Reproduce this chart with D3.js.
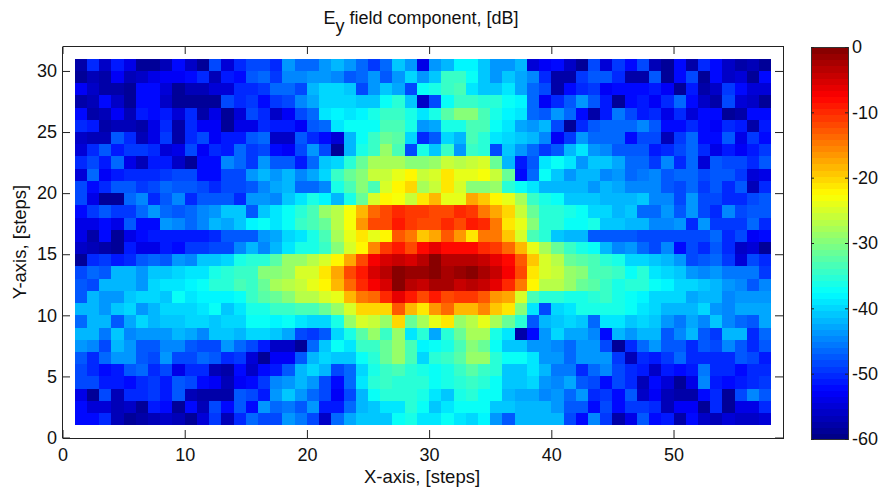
<!DOCTYPE html>
<html lang="en">
<head>
<meta charset="UTF-8">
<title>Ey field component</title>
<script src="https://cdn.jsdelivr.net/npm/d3@7"></script>
<style>
    body { margin: 0; background: #fff; }
    text { font-family: "Liberation Sans", Arial, sans-serif; fill: #111; }
    .frame path, .frame line { stroke: #222; }
</style>
</head>
<body>
<div id="chart"></div>
<script>
// measured field in dB, one array per row, top row of the picture first
var row30 = [-58,-50,-56,-51,-54,-59,-59,-57,-52,-56,-59,-48,-55,-50,-48,-48,-50,-44,-46,-46,-44,-42,-44,-46,-49,-46,-41,-44,-54,-44,-41.5,-38,-38,-41,-44,-44,-42,-55,-53,-52,-56,-59,-48,-55,-49,-52,-48,-57,-59,-52,-58,-50,-52,-56,-58,-57,-59];
var row29 = [-59,-57,-58,-53,-57,-56,-54,-53,-53,-52,-50,-57,-51,-52,-47,-46,-49,-45,-45,-44,-44,-45,-47,-46,-44,-47,-44,-40,-44,-41,-34.5,-34.5,-37,-41,-43.5,-41,-43,-45,-50,-58,-58,-49,-47,-47,-50,-58,-58,-47,-59,-52,-48,-59,-52,-56,-55,-59,-52];
var row28 = [-53,-56,-58,-58,-59,-52,-52,-55,-59,-57,-57,-55,-55,-50,-50,-49,-46,-46,-48,-42,-40,-40,-41,-48,-44,-41,-43,-48,-37,-36,-34,-33,-39,-40.5,-40.5,-39,-43,-46,-48.5,-58,-52,-50,-49,-53,-52,-52,-52,-51,-53,-59,-51,-58,-56,-49,-52,-55,-55];
var row27 = [-58,-57,-52,-56,-59,-52,-52,-56,-59,-59,-59,-59,-48.5,-50,-49,-52,-49,-48,-45,-43,-40,-40,-40,-40.5,-40.5,-37.5,-35.5,-40.5,-56,-48.5,-37.5,-34,-34,-35.5,-35.5,-37.5,-38,-46,-53,-50,-47,-44,-47.5,-51,-59,-52,-51,-53,-50,-46,-52,-56,-58,-48.5,-55,-56,-59];
var row26 = [-52,-58,-57,-53,-57,-51,-52,-51,-55,-50,-58,-54,-59,-55,-48.5,-50,-56,-53,-48,-46,-39,-38,-39,-38,-36,-34.5,-34,-36,-39,-36,-32,-29.5,-29.5,-33,-36,-38,-39,-46,-47.5,-44,-46,-52,-58,-51,-45.5,-48.5,-51,-50,-54,-50,-55,-52,-52,-59,-58,-52,-52];
var row25 = [-50,-51,-58,-57,-57,-58,-54,-50,-58,-50,-53,-53,-59,-54,-54,-50,-51,-51,-53,-47,-46,-39,-37,-37,-37,-33,-33,-36.5,-44,-43,-36,-36,-33,-33,-37.5,-38.5,-43,-44,-42,-48,-59,-50,-47,-46,-46,-46,-45,-47.5,-52,-52,-50,-52,-53,-50,-51,-58,-51];
var row24 = [-56,-57,-57,-47,-50,-57,-54,-49,-58,-50,-48,-53,-51,-51,-47,-46,-56,-56,-47,-50,-52,-55,-41.5,-37.5,-34.5,-31.5,-32,-40,-50,-47,-40,-41.5,-33,-35.5,-39,-40,-41,-41.5,-45,-53,-49,-44,-46,-46,-46,-52,-48,-48,-57,-49,-46,-52,-52,-47,-54,-49,-52];
var row23 = [-55,-50,-47,-51,-49,-49,-50,-55,-54,-48,-53,-50,-51,-46,-49,-48.5,-52,-53,-48,-44,-48,-59,-42,-36,-34,-29,-33,-48,-36.5,-41,-34.5,-44,-34,-35.5,-48,-40.5,-44,-46,-49,-47,-42,-39,-44,-45,-47,-47.5,-47.5,-51,-50,-48.5,-46,-50,-54,-51,-53,-51,-49];
var row22 = [-50,-48.5,-51,-46,-54,-57,-51,-51,-56,-59,-52,-52,-45,-46,-49,-44,-47,-47.5,-51,-46,-40.5,-40,-35,-31,-27.5,-27.5,-28,-29.5,-29.5,-29,-25.5,-26.5,-25.5,-25,-31.5,-42,-51,-47,-39,-37.5,-38.5,-44,-41,-41,-43,-46,-46,-49,-45,-50,-46,-55,-47,-48,-48,-50,-47];
var row21 = [-55,-46,-53,-51,-50,-50,-50,-49,-48,-48,-52,-52,-48,-48,-44,-42,-43.5,-42,-45,-43,-40,-34,-31.5,-29.5,-26,-26,-24,-22,-26,-24.5,-21,-24,-24,-23,-26,-31.5,-52,-46,-37.5,-40.5,-44,-42,-42,-45,-43.5,-46,-45.5,-45,-47.5,-46,-46,-48,-47,-47,-49,-55,-54];
var row20 = [-48,-52,-50,-47,-47,-49,-48,-46,-47,-47,-48.5,-50,-48.5,-48,-47,-45,-43,-41.5,-46,-46,-45,-36.5,-33,-30,-33,-25,-22,-20.5,-27.5,-26,-21,-24.5,-30,-29.5,-29,-35.5,-37.5,-39,-41.5,-41.5,-41.5,-41.5,-44,-41.5,-43,-45,-45,-45,-47.5,-48.5,-46,-49,-47,-50,-47,-57,-50];
var row19 = [-48.5,-54,-59,-59,-46,-45,-50,-47,-45,-50,-47,-47,-47.5,-50,-44,-44,-45,-41,-38.5,-36,-38,-42,-36.5,-31,-25,-22,-23,-26,-21,-18,-24,-24,-17.5,-19.5,-22,-24,-27.5,-34,-36,-37.5,-41,-41,-41,-42,-42,-42,-41,-45,-45,-48,-44,-48,-48,-50,-50,-48.5,-47];
var row18 = [-52,-49,-47.5,-49,-49,-46,-44,-46,-47.5,-46,-45,-43.5,-41,-41,-47,-40.5,-39,-37.5,-35,-33,-29,-26.5,-23,-18,-14,-12,-9.5,-11,-11,-12,-12,-9.5,-10.5,-15,-17,-20.5,-26,-31,-35,-35.5,-36,-37,-40,-39.5,-42,-41,-46,-46,-44,-47,-44,-48,-50,-45,-48,-47,-47];
var row17 = [-54,-54,-52,-54,-47,-52,-52,-44,-45,-46,-45,-42,-43,-41,-38,-37.5,-39,-37.5,-34.5,-33.5,-31,-27,-23,-16,-12,-12,-9,-10.5,-11.5,-12,-10,-12,-9,-9.5,-15,-21,-24,-30,-35,-35,-37.5,-37.5,-36.5,-41,-41,-42,-42,-45,-45,-44,-50,-44,-49,-49,-49,-46,-50];
var row16 = [-54,-58,-52,-59,-54,-52,-51,-51,-51,-51,-51,-50,-47.5,-47.5,-47,-44,-43,-39.5,-39,-36,-33,-28,-24,-21,-24,-22,-12.5,-15,-19,-17,-13,-16,-21,-15,-15,-19,-24.5,-33,-35.5,-41,-42,-42,-47,-47.5,-47.5,-47.5,-48,-48,-48.5,-48.5,-48.5,-48.5,-46,-50,-48,-53,-52];
var row15 = [-56,-57,-58,-59,-51,-54,-54,-51,-52,-49,-49,-48,-48,-45,-42,-44.5,-41.5,-38.5,-36,-36,-34,-30,-25,-22,-15.5,-10.5,-8.5,-11.5,-8,-6.5,-8,-8,-8,-10,-11,-14,-18,-24,-28,-31,-34.5,-36,-37,-41.5,-45,-43.5,-46,-48,-45,-52,-48,-50,-47,-50,-56,-55,-59];
var row14 = [-59,-50,-49,-51,-50,-47,-46,-47,-44,-45,-40.5,-40.5,-39.5,-36.5,-35,-35,-32,-29,-29,-26.5,-24.5,-22,-17,-11.5,-7.5,-5,-4.5,-5,-3.5,-0.5,-3.5,-3.5,-3,-4,-6.5,-8,-13,-19.5,-24.5,-26.5,-31.5,-32,-33,-35,-36.5,-39.5,-39.5,-41,-42,-44,-48,-47,-46,-49,-55,-48.5,-50];
var row13 = [-48,-46,-47.5,-42,-42,-44,-41,-41,-40,-39,-39,-36,-35.5,-34.5,-34.5,-29.5,-30,-29,-25,-24.5,-21,-17,-12,-9,-5.5,-3.5,0,-1.5,-1.5,0,-2,-1,-0.5,-2,-4,-7,-12,-21.5,-24.5,-26,-29,-29.5,-33,-33.5,-34.5,-37.5,-35,-38.5,-39.5,-40.5,-44,-45,-44,-45.5,-45.5,-45.5,-49];
var row12 = [-47,-48.5,-42,-42,-42,-44,-40,-39,-39,-38,-37,-35,-35,-33,-34.5,-31.5,-28,-26.5,-25.5,-24,-22.5,-18,-14,-10,-7,-5.5,-0.5,-3,-4,-2,-2,-4,-3,-4,-6.5,-10,-15,-22.5,-27,-27,-29,-31.5,-32,-34.5,-36.5,-35.5,-35.5,-37,-38,-39.5,-39.5,-41,-42,-43.5,-45,-47,-45];
var row11 = [-47,-42,-44,-43.5,-41,-40,-40,-41,-37.5,-39,-38,-38,-38,-37.5,-34,-32,-31,-30,-26.5,-26.5,-24.5,-24,-18,-15,-14,-10,-6.5,-9,-12,-9,-12,-11,-11,-12.5,-16,-17,-25,-33,-35,-35.5,-36.5,-36,-35,-34,-36,-37.5,-38,-40,-40,-40,-43,-42,-42,-44.5,-44,-44,-44];
var row10 = [-42,-42,-44,-41,-40,-44,-41.5,-40,-39.5,-39.5,-38.5,-37,-41,-38.5,-36,-36,-34,-34,-33,-33.5,-31.5,-29,-25,-20.5,-20,-20.5,-13,-18,-21,-16,-14,-18,-18,-15.5,-19.5,-21.5,-29.5,-39,-48.5,-40,-38.5,-36.5,-36.5,-36.5,-36.5,-37.5,-38.5,-39.5,-41.5,-41.5,-42,-40,-44,-44.5,-43,-43,-43];
var row9 = [-46,-42,-42,-47,-43,-40,-41.5,-40.5,-40.5,-39.5,-39.5,-41,-40,-40,-37.5,-37.5,-38,-37.5,-38.5,-40,-40,-36,-29,-24.5,-25.5,-29,-20.5,-31.5,-28,-24,-21,-29,-26.5,-24,-27.5,-31,-35.5,-47,-42,-41,-40,-41,-46,-39,-39,-40.5,-39.5,-41,-44,-45.5,-43,-45,-40.5,-45,-46,-47,-43];
var row8 = [-42,-42,-45.5,-41,-45,-44,-44,-44,-41.5,-43,-45,-41,-41,-42,-40,-40,-41,-43,-48,-49,-47,-40,-36,-32,-29,-34.5,-29,-39,-35,-43,-35,-31.5,-27.5,-27.5,-36,-39,-58,-52,-44,-39.5,-43,-43,-45,-52,-42,-44,-42,-41.5,-47,-45,-42,-47,-49,-42,-42,-50,-46];
var row7 = [-44,-45,-48.5,-42,-44,-47,-47,-45,-45,-47,-48.5,-48,-44,-46,-48,-51,-56,-56,-59,-46,-41,-37.5,-39,-34,-34,-31,-29,-33.5,-38,-37.5,-36,-33.5,-30,-31.5,-37.5,-40.5,-40.5,-44,-44,-45,-46,-44,-43.5,-48.5,-59,-50,-46,-44,-47,-47,-50,-47,-48.5,-45,-47,-50,-47];
var row6 = [-47,-50,-46,-44,-44,-47,-48.5,-44,-48.5,-48.5,-46,-47,-50,-49,-55,-59,-53,-53,-47,-42,-39.5,-41,-41,-37.5,-35.5,-31,-29,-33,-39.5,-35.5,-34,-32,-29,-29,-35.5,-37.5,-37.5,-39,-44,-44,-46,-44,-44,-44,-49,-57,-50,-51,-49,-46,-50,-50,-50.5,-50,-47,-48.5,-51];
var row5 = [-48,-50,-52,-51,-47,-46,-50,-48,-54,-50,-50,-57,-57.5,-52,-56,-52,-51,-47,-42,-40,-42,-48,-46,-39.5,-36,-34,-33,-35,-36,-37.5,-36,-34.5,-32,-34,-35.5,-40.5,-40.5,-39,-42,-45.5,-45.5,-50,-46,-45,-48,-50,-51,-56,-51,-52,-51,-45.5,-50,-50,-52,-50,-50];
var row4 = [-48,-48,-51,-51,-52,-50,-49,-51,-47.5,-48.5,-52,-53,-57,-53,-52,-49,-45,-44,-42,-43.5,-48,-52,-46,-39,-35.5,-34.5,-35,-35,-35,-37.5,-36.5,-35,-34,-35.5,-37,-41,-41,-40,-44,-45,-43,-47.5,-48.5,-52,-48,-50,-57,-52,-55,-59,-54,-45,-51,-52,-51,-50,-49];
var row3 = [-54,-59,-48,-57,-50,-50,-49,-51,-47.5,-57,-58,-58,-58,-47,-48.5,-51,-44,-41,-44,-46,-48,-53,-48.5,-41.5,-37.5,-35.5,-35.5,-35.5,-36,-38.5,-40.5,-36,-35.5,-37,-37.5,-42,-43,-43,-45,-44,-46,-44,-50.5,-49,-52,-47,-56,-53,-57,-58,-58,-52,-50,-59,-48.5,-45,-47.5];
var row2 = [-52,-55,-55,-57,-56,-59,-51,-52,-59,-52,-57,-48.5,-52,-47,-52,-44,-46,-45.5,-47,-44,-51,-51,-46,-42,-40.5,-39,-39,-35.5,-37.5,-41,-39,-37.5,-37.5,-37.5,-41,-41,-41.5,-41.5,-42,-43.5,-47,-47.5,-52,-48,-52,-49,-49,-50,-57,-53,-53,-59,-50,-59,-54,-54,-50];
var row1 = [-52,-52,-50,-57,-59,-58,-57,-56,-57,-59,-55,-49,-57,-50,-46,-48.5,-48.5,-44,-45.5,-48.5,-56,-46,-43,-40.5,-40.5,-40.5,-37.5,-36,-38.5,-39,-37.5,-38.5,-39.5,-38,-44,-47,-41.5,-41.5,-42,-42,-48.5,-52,-45,-49,-58,-54,-47.5,-52,-51,-58,-52,-56,-57,-55,-56,-56,-55];

var fieldRows = [row30, row29, row28, row27, row26, row25, row24, row23, row22, row21, row20, row19, row18, row17, row16,
    row15, row14, row13, row12, row11, row10, row9, row8, row7, row6, row5, row4, row3, row2, row1];

var xTicks = [0, 10, 20, 30, 40, 50];
var yTicks = [0, 5, 10, 15, 20, 25, 30];
var colorTicks = [0, -10, -20, -30, -40, -50, -60];

var width = 881, height = 491;
var plot = { left: 62.5, right: 783.5, top: 46.5, bottom: 437.5 };
var bar = { left: 811.5, right: 848.5, top: 47.5, bottom: 439.5 };

var svg = d3.select("#chart").append("svg")
    .attr("width", width)
    .attr("height", height)
    .style("display", "block");

var x = d3.scaleLinear().domain([0, 59]).range([plot.left, plot.right]);
var y = d3.scaleLinear().domain([0, 32]).range([plot.bottom, plot.top]);

// jet, 64 flat levels like the matlab colormap
var jet = d3.scaleLinear()
    .domain([0, 1 / 8, 3 / 8, 5 / 8, 7 / 8, 1])
    .range(["#000080", "#0000ff", "#00ffff", "#ffff00", "#ff0000", "#800000"]);
var levels = d3.range(64).map(function (i) { return jet((i + 0.5) / 64); });
var color = d3.scaleQuantize().domain([-60, 0]).range(levels);

// the cells
svg.append("g")
    .attr("shape-rendering", "crispEdges")
    .selectAll("g")
    .data(fieldRows)
    .enter().append("g")
    .each(function (row, r) {
        d3.select(this).selectAll("rect")
            .data(row)
            .enter().append("rect")
            .attr("x", function (d, c) { return x(c + 1); })
            .attr("y", y(31 - r))
            .attr("width", function (d, c) { return x(c + 2) - x(c + 1); })
            .attr("height", y(30 - r) - y(31 - r))
            .attr("fill", function (d) { return color(d); });
    });

// box with inward ticks on all four sides, the axis adds its own half pixel
function frameAxis(axis, tx, ty) {
    return svg.append("g")
        .attr("class", "frame")
        .attr("transform", "translate(" + tx + "," + ty + ")")
        .call(axis);
}
var tick = 8;
frameAxis(d3.axisBottom(x).tickValues(xTicks).tickSizeInner(-tick).tickSizeOuter(0).tickPadding(10), 0, plot.bottom + 0.5);
frameAxis(d3.axisLeft(y).tickValues(yTicks).tickSizeInner(-tick).tickSizeOuter(0).tickPadding(5), plot.left - 0.5, 0);
frameAxis(d3.axisTop(x).tickValues(xTicks).tickSizeInner(-tick).tickSizeOuter(0).tickFormat(""), 0, plot.top - 0.5);
frameAxis(d3.axisRight(y).tickValues(yTicks).tickSizeInner(-tick).tickSizeOuter(0).tickFormat(""), plot.right - 0.5, 0);
svg.selectAll(".frame text").style("font-size", "18px").style("font-family", null);

// colorbar
var barY = d3.scaleLinear().domain([-60, 0]).range([bar.bottom, bar.top]);
var bandH = (bar.bottom - bar.top) / levels.length;
svg.append("g")
    .attr("shape-rendering", "crispEdges")
    .selectAll("rect")
    .data(levels)
    .enter().append("rect")
    .attr("x", bar.left)
    .attr("width", bar.right - bar.left)
    .attr("y", function (d, i) { return bar.bottom - (i + 1) * bandH; })
    .attr("height", bandH + 0.5)
    .attr("fill", function (d) { return d; });

svg.append("rect")
    .attr("x", bar.left)
    .attr("y", bar.top)
    .attr("width", bar.right - bar.left)
    .attr("height", bar.bottom - bar.top)
    .attr("fill", "none")
    .attr("stroke", "#333");

// hyphen labels as in the original, not d3's unicode minus
var barAxis = svg.append("g")
    .attr("class", "frame")
    .attr("transform", "translate(" + (bar.right - 0.5) + ",-0.5)")
    .call(d3.axisRight(barY).tickValues(colorTicks).tickSizeInner(-3).tickSizeOuter(0).tickPadding(4).tickFormat(String));
barAxis.select(".domain").remove();
barAxis.selectAll("text").style("font-size", "18px").style("font-family", null);
svg.append("g")
    .attr("class", "frame")
    .attr("transform", "translate(" + (bar.left - 0.5) + ",-0.5)")
    .call(d3.axisLeft(barY).tickValues(colorTicks).tickSizeInner(-3).tickSizeOuter(0).tickFormat(""))
    .select(".domain").remove();

// titles
var title = svg.append("text")
    .attr("x", 421)
    .attr("y", 24)
    .attr("text-anchor", "middle")
    .style("font-size", "18px");
title.append("tspan").text("E");
title.append("tspan").attr("dy", 8).text("y");
title.append("tspan").attr("dy", -8).text(" field component, [dB]");

svg.append("text")
    .attr("x", 422)
    .attr("y", 483)
    .attr("text-anchor", "middle")
    .style("font-size", "18.5px")
    .text("X-axis, [steps]");

svg.append("text")
    .attr("transform", "translate(26,242) rotate(-90)")
    .attr("text-anchor", "middle")
    .style("font-size", "18.5px")
    .text("Y-axis, [steps]");
</script>
</body>
</html>
